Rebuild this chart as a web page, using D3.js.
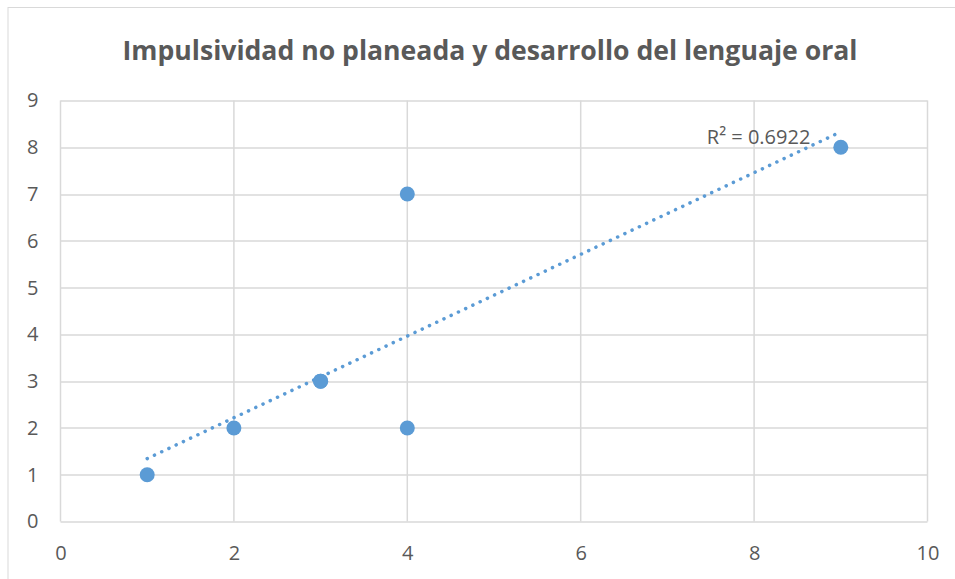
<!DOCTYPE html>
<html>
<head>
<meta charset="utf-8">
<script src="https://cdn.jsdelivr.net/npm/d3@7"></script>
<style>
  body { margin: 0; background: #fff; }
  text { font-family: "Open Sans", "Noto Sans", sans-serif; fill: #595959; }
</style>
</head>
<body>
<div id="chart"></div>
<script>
var svgWidth = 955;
var svgHeight = 579;

var margin = { top: 100.5, right: 27.5, bottom: 57.5, left: 60.5 };
var width = svgWidth - margin.left - margin.right;
var height = svgHeight - margin.top - margin.bottom;

// data
var impulsividad = [1, 2, 3, 3, 4, 4, 9];
var lenguajeOral = [1, 2, 3, 3, 7, 2, 8];
var xTicks = [0, 2, 4, 6, 8, 10];
var yTicks = [0, 1, 2, 3, 4, 5, 6, 7, 8, 9];
var chartTitle = "Impulsividad no planeada y desarrollo del lenguaje oral";

var data = impulsividad.map(function(x, i) { return { x: x, y: lenguajeOral[i] }; });

var svg = d3.select("#chart")
  .append("svg")
  .attr("width", svgWidth)
  .attr("height", svgHeight);

// outer chart border
svg.append("rect")
  .attr("x", 8).attr("y", 7.5)
  .attr("width", 980).attr("height", 620)
  .attr("fill", "none")
  .attr("stroke", "#d9d9d9");

svg.append("text")
  .attr("x", 490)
  .attr("y", 60)
  .attr("text-anchor", "middle")
  .attr("textLength", 735)
  .attr("lengthAdjust", "spacingAndGlyphs")
  .style("font-size", "26px")
  .style("font-weight", "bold")
  .text(chartTitle);

var chartGroup = svg.append("g")
  .attr("transform", `translate(${margin.left}, ${margin.top})`);

var xScale = d3.scaleLinear().domain([0, 10]).range([0, width]);
var yScale = d3.scaleLinear().domain([0, 9]).range([height, 0]);

// gridlines
chartGroup.append("g")
  .selectAll("line")
  .data(yTicks)
  .enter()
  .append("line")
  .attr("x1", 0).attr("x2", width)
  .attr("y1", d => Math.round(yScale(d)) + 0.5)
  .attr("y2", d => Math.round(yScale(d)) + 0.5)
  .attr("stroke", "#d9d9d9")
  .attr("stroke-width", 1.5);

chartGroup.append("g")
  .selectAll("line")
  .data(xTicks)
  .enter()
  .append("line")
  .attr("y1", 0).attr("y2", height)
  .attr("x1", d => xScale(d))
  .attr("x2", d => xScale(d))
  .attr("stroke", "#d9d9d9")
  .attr("stroke-width", 1.5);

// axes (labels only, lines are the gridlines)
var bottomAxis = d3.axisBottom(xScale).tickValues(xTicks).tickSize(0).tickPadding(24);
var leftAxis = d3.axisLeft(yScale).tickValues(yTicks).tickSize(0).tickPadding(22);

var xAxis = chartGroup.append("g")
  .attr("transform", `translate(0, ${height})`)
  .call(bottomAxis);
var yAxis = chartGroup.append("g").call(leftAxis);

[xAxis, yAxis].forEach(function(ax) {
  ax.select(".domain").remove();
  ax.selectAll("text")
    .style("font-size", "20px")
    .style("font-family", "\"Open Sans\", sans-serif")
    .attr("fill", "#595959");
});

// linear trendline (least squares)
var mx = d3.mean(data, d => d.x);
var my = d3.mean(data, d => d.y);
var sxy = d3.sum(data, d => (d.x - mx) * (d.y - my));
var sxx = d3.sum(data, d => (d.x - mx) * (d.x - mx));
var syy = d3.sum(data, d => (d.y - my) * (d.y - my));
var slope = sxy / sxx;
var intercept = my - slope * mx;
var r2 = (sxy * sxy) / (sxx * syy);

var xExt = d3.extent(data, d => d.x);
chartGroup.append("line")
  .attr("x1", xScale(xExt[0]))
  .attr("y1", yScale(intercept + slope * xExt[0]))
  .attr("x2", xScale(xExt[1]))
  .attr("y2", yScale(intercept + slope * xExt[1]))
  .attr("stroke", "#5b9bd5")
  .attr("stroke-width", 3.5)
  .attr("stroke-linecap", "round")
  .attr("stroke-dasharray", "0.1,7.9");

// points
chartGroup.selectAll("circle")
  .data(data)
  .enter()
  .append("circle")
  .attr("cx", d => xScale(d.x))
  .attr("cy", d => yScale(d.y))
  .attr("r", 7.5)
  .attr("fill", "#5b9bd5");

chartGroup.append("text")
  .attr("x", xScale(xExt[1]) - 134)
  .attr("y", yScale(intercept + slope * xExt[1]) + 12)
  .style("font-size", "20px")
  .text("R² = " + r2.toFixed(4));
</script>
</body>
</html>
